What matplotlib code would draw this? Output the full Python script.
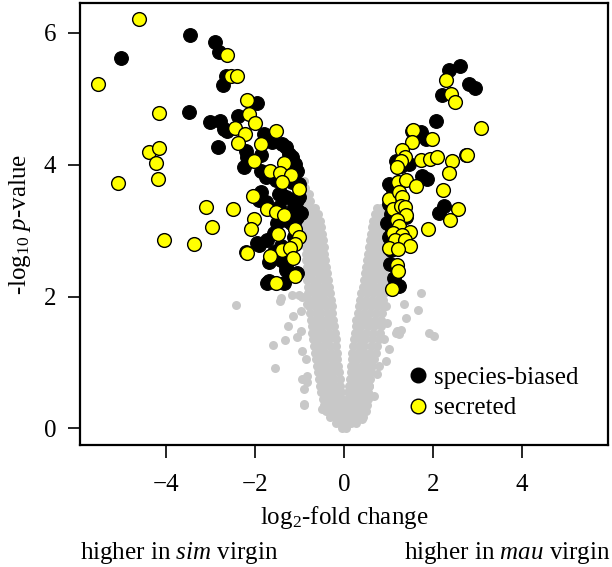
import matplotlib
matplotlib.use("Agg")
import matplotlib.pyplot as plt
from matplotlib.lines import Line2D

plt.rcParams['font.family'] = ['Liberation Serif', 'DejaVu Serif']
plt.rcParams['mathtext.fontset'] = 'custom'
plt.rcParams['mathtext.rm'] = 'Liberation Serif'
plt.rcParams['mathtext.it'] = 'Liberation Serif:italic'

# background genes (grey): (-log10 p, [log2 fc ...])
grey_rows = [
    (0.00, [-0.05, 0.05]),
    (0.08, [-0.18, -0.07, 0.04, 0.15, 0.26]),
    (0.17, [-0.32, -0.21, -0.10, 0.01, 0.12, 0.23, 0.34, 0.42]),
    (0.26, [-0.40, -0.29, -0.18, -0.07, 0.06, 0.17, 0.28, 0.39, 0.49]),
    (0.35, [-0.44, -0.33, -0.22, -0.11, -0.02, 0.08, 0.19, 0.30, 0.41, 0.51]),
    (0.45, [-0.48, -0.37, -0.26, -0.15, -0.05, 0.09, 0.20, 0.31, 0.42, 0.53]),
    (0.55, [-0.52, -0.41, -0.30, -0.19, -0.07, 0.10, 0.21, 0.32, 0.43, 0.55]),
    (0.65, [-0.54, -0.43, -0.32, -0.20, -0.08, 0.12, 0.23, 0.34, 0.45, 0.56]),
    (0.75, [-0.56, -0.45, -0.34, -0.22, -0.10, 0.14, 0.25, 0.36, 0.47, 0.58]),
    (0.85, [-0.58, -0.47, -0.36, -0.24, -0.12, 0.15, 0.26, 0.38, 0.50, 0.61]),
    (0.95, [-0.60, -0.49, -0.38, -0.26, -0.14, 0.16, 0.28, 0.40, 0.52, 0.64]),
    (1.05, [-0.63, -0.51, -0.40, -0.28, -0.15, 0.18, 0.30, 0.42, 0.55, 0.67]),
    (1.15, [-0.66, -0.54, -0.42, -0.30, -0.16, 0.19, 0.31, 0.44, 0.58, 0.71]),
    (1.25, [-0.68, -0.56, -0.44, -0.31, -0.17, 0.21, 0.33, 0.46, 0.60, 0.75]),
    (1.35, [-0.70, -0.58, -0.46, -0.33, -0.19, 0.22, 0.35, 0.48, 0.63, 0.78]),
    (1.45, [-0.71, -0.59, -0.47, -0.34, -0.20, 0.24, 0.37, 0.50, 0.65, 0.80]),
    (1.55, [-0.73, -0.61, -0.49, -0.36, -0.22, 0.26, 0.39, 0.53, 0.68, 0.82]),
    (1.65, [-0.75, -0.63, -0.51, -0.38, -0.24, 0.28, 0.41, 0.55, 0.70, 0.84]),
    (1.75, [-0.76, -0.64, -0.52, -0.39, -0.26, 0.31, 0.44, 0.58, 0.72, 0.86]),
    (1.85, [-0.78, -0.66, -0.54, -0.41, -0.28, 0.34, 0.47, 0.60, 0.74, 0.87]),
    (1.95, [-0.79, -0.67, -0.55, -0.42, -0.30, 0.36, 0.49, 0.62, 0.76, 0.88]),
    (2.05, [-0.80, -0.68, -0.56, -0.44, -0.32, 0.39, 0.52, 0.65, 0.78, 0.89]),
    (2.15, [-0.81, -0.69, -0.57, -0.45, -0.34, 0.42, 0.54, 0.67, 0.79, 0.90]),
    (2.25, [-0.82, -0.70, -0.58, -0.46, -0.36, 0.44, 0.56, 0.68, 0.80, 0.90]),
    (2.35, [-0.83, -0.71, -0.59, -0.48, -0.38, 0.47, 0.59, 0.70, 0.81, 0.90]),
    (2.45, [-0.84, -0.72, -0.60, -0.49, -0.40, 0.49, 0.61, 0.72, 0.82, 0.90]),
    (2.55, [-0.85, -0.73, -0.62, -0.51, -0.42, 0.52, 0.63, 0.74, 0.84, 0.91]),
    (2.65, [-0.85, -0.74, -0.63, -0.52, -0.44, 0.54, 0.65, 0.75, 0.85, 0.91]),
    (2.75, [-0.86, -0.75, -0.64, -0.54, -0.46, 0.56, 0.67, 0.77, 0.86, 0.91]),
    (2.85, [-0.87, -0.76, -0.66, -0.56, -0.48, 0.58, 0.69, 0.78, 0.87, 0.91]),
    (2.95, [-0.88, -0.77, -0.67, -0.58, -0.50, 0.61, 0.71, 0.80, 0.88]),
    (3.05, [-0.88, -0.78, -0.69, -0.60, -0.52, 0.63, 0.73, 0.82, 0.88]),
    (3.15, [-0.89, -0.79, -0.70, -0.62, -0.55, 0.66, 0.75, 0.83, 0.88]),
    (3.25, [-0.90, -0.80, -0.72, -0.64, -0.58, 0.70, 0.78, 0.85]),
    (3.35, [-0.91, -0.82, -0.74, -0.66, 0.74, 0.82]),
    (3.45, [-0.92, -0.84, -0.76]),
    (3.55, [-0.94, -0.86, -0.79]),
    (3.65, [-0.96, -0.88]),
    (3.75, [-0.98, -0.90]),
]

# scattered grey genes outside the dense V
grey_out_x = [-2.42, -1.44, -1.14, -1.25, -1.33, -1.59, -1.05, -0.97, -0.94, -1.55,
              -0.90, -0.82, -1.16, -0.94, -0.82, -0.97, -0.86, -0.94, -0.82, -0.90,
              -0.49, -1.42, -1.01, -0.89,
              1.72, 1.35, 1.67, 1.40, 1.20, 1.24, 1.91, 2.02, 1.01, 0.90,
              0.79, 0.75, 0.67, 1.16, 1.27, 0.94, 0.56, 0.49, 0.41, 1.01,
              0.94, 0.97, 0.63]
grey_out_y = [1.87, 1.94, 1.70, 1.55, 1.34, 1.27, 1.38, 1.48, 1.18, 0.91,
              0.60, 0.80, 2.03, 2.00, 1.88, 1.78, 1.05, 0.75, 0.70, 0.35,
              0.30, 1.98, 2.03, 0.37,
              2.06, 1.88, 1.79, 1.68, 1.48, 1.43, 1.44, 1.40, 1.20, 1.35,
              0.95, 0.83, 0.50, 1.45, 1.50, 1.03, 0.65, 0.45, 0.15, 2.10,
              1.85, 1.60, 1.10]

# species-biased genes (black)
black_x = [-3.45, -5.00, -2.90, -2.81, -2.64, -2.71, -3.48, -1.95, -2.38, -3.00,
           -2.79, -2.70, -2.82, -2.25, -1.80, -1.69, -1.39, -1.31, -2.21, -1.87,
           -1.16, -1.09, -1.87, -1.76, -1.53, -1.16, -1.01, -1.87, -1.46, -1.31,
           -1.05, -1.05, -1.91, -1.76, -1.46, -1.16, -1.31, -1.09, -1.95, -1.72,
           -1.50, -1.20, -2.21, -1.69, -1.42, -1.31, -1.05, -1.69, -1.35, -1.91,
           -1.31, -1.72, -1.12, -0.97, -2.62, -1.61, -1.24, -1.05, -2.17, -1.01,
           -1.42, -1.12, -1.57, -1.12, -1.42, -1.57, -1.05,
           2.36, 2.60, 2.81, 2.94, 2.19, 2.06, 1.53, 1.72, 1.84, 1.16,
           1.27, 1.46, 1.76, 1.87, 1.01, 1.09, 1.01, 1.31, 1.39, 2.25,
           2.13, 0.97, 1.01, 1.05, 1.12, 1.24, 2.73, 1.05, 1.08, 1.03]
black_y = [5.96, 5.61, 5.86, 5.71, 5.34, 5.20, 4.80, 4.94, 4.74, 4.64,
           4.66, 4.54, 4.26, 3.97, 4.46, 4.41, 4.31, 4.26, 4.21, 4.14,
           4.11, 4.01, 3.91, 3.81, 3.76, 3.73, 3.71, 3.58, 3.56, 3.51,
           3.46, 3.31, 3.46, 3.43, 3.36, 3.26, 3.16, 3.16, 2.81, 2.86,
           3.11, 3.11, 2.68, 2.53, 2.56, 2.41, 2.36, 2.23, 2.21, 2.78,
           2.46, 2.21, 3.36, 3.26, 4.51, 4.34, 4.16, 3.91, 4.11, 3.51,
           3.56, 3.48, 2.96, 2.91, 2.76, 2.68, 3.21,
           5.44, 5.49, 5.22, 5.16, 5.06, 4.66, 4.51, 4.50, 4.39, 4.06,
           3.98, 4.01, 3.83, 3.78, 3.71, 3.61, 3.41, 3.38, 3.21, 3.38,
           3.26, 3.11, 2.91, 2.71, 2.28, 2.16, 4.14, 3.25, 3.00, 2.50]

# secreted genes (yellow)
yellow_x = [-4.60, -5.53, -2.62, -2.53, -2.41, -4.16, -2.17, -2.13, -2.00, -1.53,
            -2.45, -2.22, -2.38, -1.87, -4.38, -4.16, -4.22, -4.18, -5.08, -2.02,
            -1.35, -1.67, -1.44, -1.18, -1.40, -1.01, -2.04, -1.72, -1.53, -1.35,
            -3.11, -2.49, -2.02, -2.96, -2.08, -1.10, -1.00, -1.48, -1.09, -1.39,
            -1.22, -2.17, -1.66, -1.15, -1.09, -1.53, -4.04, -3.37,
            2.30, 2.40, 2.49, 3.07, 1.54, 1.52, 1.97, 1.31, 1.36, 1.27,
            1.18, 1.74, 1.93, 2.09, 2.43, 2.76, 2.36, 1.21, 1.40, 1.61,
            2.22, 1.01, 1.24, 1.31, 1.10, 1.27, 1.37, 1.40, 2.55, 2.37,
            1.20, 1.24, 1.89, 1.48, 1.09, 1.31, 1.15, 1.37, 1.48, 1.01,
            1.22, 1.20, 1.22, 1.07]
yellow_y = [6.21, 5.22, 5.66, 5.35, 5.35, 4.78, 4.98, 4.76, 4.63, 4.51,
            4.56, 4.47, 4.33, 4.31, 4.19, 4.25, 4.02, 3.78, 3.72, 4.05,
            4.03, 3.90, 3.87, 3.85, 3.74, 3.63, 3.53, 3.33, 3.28, 3.23,
            3.36, 3.33, 3.18, 3.05, 3.03, 3.03, 2.91, 2.95, 2.79, 2.70,
            2.73, 2.66, 2.62, 2.58, 2.31, 2.20, 2.85, 2.80,
            5.29, 5.07, 4.95, 4.56, 4.53, 4.35, 4.39, 4.22, 4.12, 4.05,
            3.97, 4.07, 4.08, 4.11, 4.06, 4.14, 3.87, 3.74, 3.76, 3.68,
            3.61, 3.48, 3.58, 3.51, 3.32, 3.38, 3.36, 3.23, 3.33, 3.16,
            3.16, 3.07, 3.03, 2.98, 2.96, 2.93, 2.86, 2.86, 2.77, 2.73,
            2.72, 2.48, 2.38, 2.12]

grey_x = [x for y, xs in grey_rows for x in xs] + grey_out_x
grey_y = [y for y, xs in grey_rows for x in xs] + grey_out_y

FS = 18

fig = plt.figure(figsize=(6.12, 5.67), dpi=100)
ax = fig.add_axes([0.1307, 0.2152, 0.8628, 0.7795])

ax.scatter(grey_x, grey_y, s=42, color='#c8c8c8', linewidths=0, zorder=2)
ax.scatter(black_x, black_y, s=98, color='black', linewidths=0.8, edgecolors='black', zorder=3)
ax.scatter(yellow_x, yellow_y, s=98, color='#ffff00', linewidths=1.0, edgecolors='black', zorder=4)

ax.set_xlim(-5.93, 5.93)
ax.set_ylim(-0.25, 6.45)
ax.set_xticks([-4, -2, 0, 2, 4])
ax.set_yticks([0, 2, 4, 6])
ax.tick_params(direction='out', length=9, width=1.2, labelsize=FS)
ax.tick_params(axis='x', pad=12)
ax.tick_params(axis='y', pad=8)
for sp in ax.spines.values():
    sp.set_linewidth(1.6)

ax.set_xlabel(r'log$_2$-fold change', fontsize=FS, labelpad=6)
ax.set_ylabel(r'-log$_{10}$ $p$-value', fontsize=FS, labelpad=8)

handles = [Line2D([], [], ls='none', marker='o', markersize=10.5, markerfacecolor='black',
                  markeredgecolor='black'),
           Line2D([], [], ls='none', marker='o', markersize=10.5, markerfacecolor='#ffff00',
                  markeredgecolor='black', markeredgewidth=1.0)]
ax.legend(handles, ['species-biased', 'secreted'], loc='upper left',
          bbox_to_anchor=(0.624, 0.178), frameon=False, fontsize=FS,
          handlelength=0.7, handletextpad=0.3, borderpad=0, borderaxespad=0,
          labelspacing=0.32)

fig.text(0.131, 0.025, r'higher in $sim$ virgin', fontsize=FS, ha='left', va='center')
fig.text(0.998, 0.025, r'higher in $mau$ virgin', fontsize=FS, ha='right', va='center')

fig.savefig('out.png', dpi=100)
